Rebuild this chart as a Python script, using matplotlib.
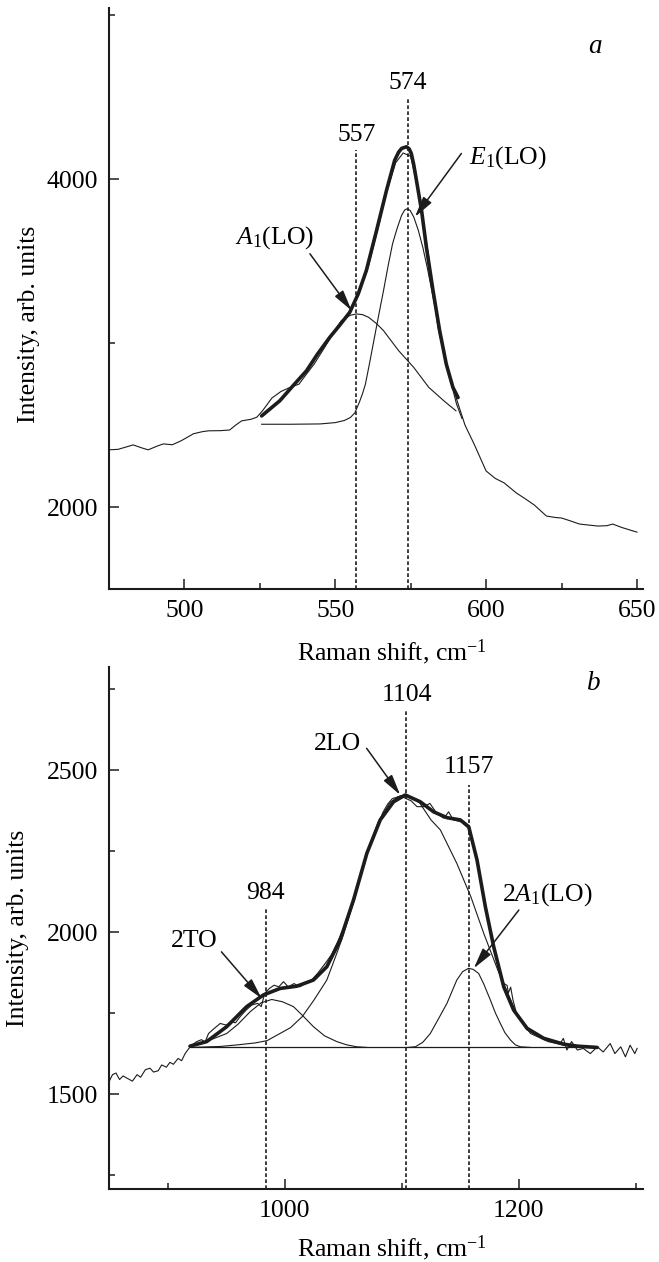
import matplotlib
matplotlib.use('Agg')
import matplotlib.pyplot as plt
from matplotlib.ticker import FixedLocator, NullFormatter

plt.rcParams['font.family'] = ['Liberation Serif', 'DejaVu Serif']
plt.rcParams['mathtext.fontset'] = 'custom'
plt.rcParams['mathtext.rm'] = 'Liberation Serif'
plt.rcParams['mathtext.it'] = 'Liberation Serif:italic'

# panel a: first-order region
a_spec_x = [475, 478, 481, 483, 486, 488, 491, 493, 496, 499, 503, 506, 508, 512, 515, 517, 519, 522,
            524, 526, 529, 532, 535, 538, 540, 543, 546, 549, 552, 555, 558, 561, 564, 567, 570, 572.5,
            575, 578, 581, 584, 587, 590, 593, 596, 600, 603, 606, 610, 613, 616, 620, 623, 625, 628,
            631, 634, 637, 640, 642, 645, 648, 650]
a_spec_y = [2349, 2352, 2368, 2379, 2360, 2349, 2372, 2385, 2380, 2405, 2447, 2460, 2465, 2466, 2470,
            2500, 2526, 2535, 2548, 2590, 2665, 2705, 2730, 2750, 2800, 2872, 2960, 3050, 3120, 3190,
            3310, 3470, 3690, 3920, 4100, 4160, 4140, 3890, 3520, 3100, 2850, 2670, 2500, 2385, 2220,
            2175, 2147, 2086, 2050, 2012, 1945, 1936, 1933, 1915, 1896, 1890, 1884, 1886, 1896, 1875,
            1858, 1847]
a_fit_x = [525.6, 531.6, 536, 540.5, 544, 548.2, 551.5, 554.8, 557.6, 560.3, 563.7, 567, 569.7, 571,
           572, 573.6, 574.5, 575.2, 576, 576.9, 578.6, 580.2, 582.4, 584.6, 586.8, 589, 590.7]
a_fit_y = [2556, 2648, 2740, 2832, 2930, 3036, 3110, 3188, 3300, 3443, 3688, 3933, 4116, 4165, 4188,
           4198, 4185, 4157, 4090, 3994, 3810, 3586, 3321, 3076, 2872, 2730, 2668]
a_a1_x = [525.6, 531.6, 536, 540.5, 544, 548, 552, 555, 557, 559, 561, 563.5, 566, 571, 576, 581, 586, 590]
a_a1_y = [2556, 2648, 2740, 2832, 2930, 3030, 3137, 3170, 3178, 3174, 3158, 3122, 3076, 2954, 2852,
          2730, 2648, 2587]
a_e1_x = [525.6, 535, 545, 550, 553, 555, 556.5, 558, 559, 560, 561.5, 563, 564.5, 566, 567.5, 569,
          570.5, 572, 573, 573.8, 574.8, 576, 577.5, 579, 580.5, 582, 583.5, 585, 586.5, 588, 589.2,
          590.2, 592]
a_e1_y = [2505, 2505, 2507, 2515, 2528, 2546, 2575, 2640, 2690, 2750, 2890, 3036, 3180, 3321, 3470,
          3607, 3700, 3780, 3812, 3820, 3810, 3770, 3690, 3586, 3460, 3321, 3180, 3036, 2910, 2791,
          2700, 2628, 2540]
a_peaks = [557, 574]
a_peak_tops = [4177, 4495]

# panel b: second-order region
b_spec_x = [850, 853, 856, 859, 862, 866, 870, 874, 877, 881, 885, 888, 892, 895, 899, 902, 905, 909,
            912, 915, 918, 921, 925, 929, 932, 935, 940, 945, 950, 955, 958, 962, 967, 972, 977, 980,
            983, 987, 991, 995, 999, 1003, 1008, 1013, 1018, 1023, 1028, 1034, 1040, 1045, 1050, 1055,
            1060, 1065, 1070, 1075, 1080, 1084, 1088, 1092, 1095, 1099, 1103, 1108, 1113, 1119, 1124,
            1130, 1136, 1140, 1144, 1151, 1157, 1161, 1164, 1168, 1171, 1175, 1178, 1182, 1185, 1187,
            1190, 1191, 1193, 1195, 1198, 1202, 1207, 1211, 1215, 1220, 1224, 1228, 1232, 1236, 1238,
            1241, 1245, 1250, 1255, 1261, 1267, 1272, 1278, 1282, 1287, 1291, 1295, 1299, 1301]
b_spec_y = [1538, 1560, 1565, 1545, 1556, 1548, 1540, 1560, 1552, 1575, 1580, 1568, 1572, 1590, 1583,
            1598, 1592, 1610, 1603, 1625, 1640, 1652, 1662, 1668, 1660, 1687, 1703, 1718, 1713, 1723,
            1720, 1739, 1759, 1775, 1780, 1770, 1811, 1826, 1836, 1831, 1847, 1831, 1841, 1831, 1843,
            1852, 1872, 1900, 1930, 1968, 2010, 2060, 2115, 2180, 2240, 2290, 2335, 2370, 2395, 2412,
            2415, 2420, 2413, 2405, 2387, 2387, 2397, 2366, 2351, 2371, 2346, 2340, 2320, 2270, 2220,
            2150, 2080, 2010, 1955, 1900, 1862, 1842, 1835, 1812, 1830, 1790, 1749, 1725, 1698, 1690,
            1682, 1675, 1667, 1665, 1656, 1660, 1672, 1636, 1662, 1636, 1641, 1625, 1646, 1630, 1656,
            1625, 1646, 1615, 1651, 1625, 1641]
b_fit_x = [919.2, 933.4, 950.5, 967.6, 981.9, 996.1, 1010.4, 1024.6, 1036, 1047.4, 1058.8, 1070.2,
           1081.6, 1093, 1103, 1115.8, 1127.2, 1138.6, 1150, 1157.2, 1164.3, 1171.4, 1178.5, 1187.1,
           1195.6, 1207, 1221.3, 1238.3, 1249.8, 1266.8]
b_fit_y = [1648, 1662, 1708, 1770, 1806, 1826, 1833, 1852, 1893, 1975, 2099, 2243, 2346, 2402, 2423,
           2402, 2371, 2353, 2346, 2325, 2222, 2078, 1955, 1831, 1759, 1703, 1672, 1654, 1648, 1644]
b_2to_x = [919, 935, 950.5, 960, 970.5, 980, 989, 998, 1007.5, 1016, 1024.6, 1034, 1044.5, 1053,
           1061.6, 1070]
b_2to_y = [1648, 1665, 1687, 1715, 1754, 1782, 1792, 1785, 1770, 1740, 1708, 1680, 1662, 1652, 1646, 1644]
b_2lo_x = [920, 945, 960, 975, 985, 995, 1005, 1015, 1025, 1036, 1044.5, 1050, 1060, 1070, 1080, 1090,
           1097, 1104, 1115, 1125, 1133, 1147, 1159, 1170, 1182, 1193, 1199, 1210, 1225, 1245, 1268]
b_2lo_y = [1644, 1647, 1652, 1658, 1665, 1685, 1705, 1739, 1790, 1852, 1934, 1990, 2105, 2240, 2340,
           2400, 2418, 2425, 2400, 2346, 2315, 2212, 2109, 1996, 1883, 1790, 1739, 1687, 1662, 1646, 1644]
b_2a1_x = [1105, 1111.6, 1118, 1124.4, 1131, 1138.6, 1147, 1152, 1157, 1161, 1165.7, 1170, 1175.7, 1180,
           1184.2, 1188, 1192.8, 1197, 1201.3, 1210]
b_2a1_y = [1644, 1646, 1660, 1687, 1730, 1780, 1852, 1878, 1888, 1885, 1872, 1840, 1790, 1750, 1718,
           1690, 1667, 1652, 1646, 1644]
b_base_x = [919, 1268]
b_base_y = [1644, 1644]
b_peaks = [984, 1104, 1157]
b_peak_tops = [2074, 2685, 2454]

FS = 18.5
ink = '#1c1c1c'
fig = plt.figure(figsize=(6.59, 12.62), dpi=100)
ax1 = fig.add_axes([0.1654, 0.5333, 0.8103, 0.4604])
ax2 = fig.add_axes([0.1654, 0.0578, 0.8103, 0.4137])


def style_axes(ax, xlim, ylim, xmaj, xmin, ymaj, ymin):
    ax.set_xlim(*xlim)
    ax.set_ylim(*ylim)
    for s in ['top', 'right']:
        ax.spines[s].set_visible(False)
    for s in ['left', 'bottom']:
        ax.spines[s].set_linewidth(1.5)
        ax.spines[s].set_color(ink)
    ax.xaxis.set_major_locator(FixedLocator(xmaj))
    ax.xaxis.set_minor_locator(FixedLocator(xmin))
    ax.yaxis.set_major_locator(FixedLocator(ymaj))
    ax.yaxis.set_minor_locator(FixedLocator(ymin))
    ax.xaxis.set_minor_formatter(NullFormatter())
    ax.yaxis.set_minor_formatter(NullFormatter())
    ax.tick_params(which='major', direction='in', length=7, width=1.1, color=ink,
                   labelsize=FS, pad=8)
    ax.tick_params(which='minor', direction='in', length=4.5, width=1.1, color=ink)
    ax.set_xlabel(r'Raman shift, cm$^{-1}$', fontsize=FS)
    ax.set_ylabel('Intensity, arb. units', fontsize=FS)


style_axes(ax1, (475, 652), (1500, 5045), [500, 550, 600, 650], [525, 575, 625],
           [2000, 4000], [3000, 5000])
style_axes(ax2, (850, 1306), (1207, 2818), [1000, 1200], [900, 1100, 1300],
           [1500, 2000, 2500], [1250, 1750, 2250, 2750])
ax1.xaxis.set_label_coords(0.53, -0.083)
ax1.yaxis.set_label_coords(-0.13, 0.456)
ax2.xaxis.set_label_coords(0.53, -0.085)
ax2.yaxis.set_label_coords(-0.15, 0.5)
for ax in (ax1, ax2):
    ax.xaxis.label.set_va('top')

dash = (0, (2.2, 1.4))
arrow = dict(arrowstyle='-|>,head_length=0.9,head_width=0.22', color=ink, lw=1.1,
             mutation_scale=14, shrinkA=0, shrinkB=0)

# panel a
ax1.plot(a_spec_x, a_spec_y, color=ink, lw=0.8)
ax1.plot(a_a1_x, a_a1_y, color=ink, lw=0.8)
ax1.plot(a_e1_x, a_e1_y, color=ink, lw=0.8)
ax1.plot(a_fit_x, a_fit_y, color=ink, lw=2.6, solid_capstyle='round', solid_joinstyle='round')
ax1.vlines(a_peaks, 1500, a_peak_tops, colors=ink, linestyles=[dash], lw=1.2)
for x, top in zip(a_peaks, a_peak_tops):
    ax1.text(x, top + 92, str(x), fontsize=FS, ha='center', va='center')
ax1.text(636, 4807, 'a', fontsize=FS + 1, style='italic', ha='center', va='center')
ax1.text(530, 3647, r'$A_1$(LO)', fontsize=FS, ha='center', va='center')
ax1.annotate('', xy=(555.4, 3199), xytext=(541.6, 3545), arrowprops=arrow)
ax1.text(607.4, 4135, r'$E_1$(LO)', fontsize=FS, ha='center', va='center')
ax1.annotate('', xy=(576.4, 3770), xytext=(591.8, 4157), arrowprops=arrow)

# panel b
ax2.plot(b_spec_x, b_spec_y, color=ink, lw=0.8)
ax2.plot(b_base_x, b_base_y, color=ink, lw=0.9)
ax2.plot(b_2to_x, b_2to_y, color=ink, lw=0.8)
ax2.plot(b_2lo_x, b_2lo_y, color=ink, lw=0.8)
ax2.plot(b_2a1_x, b_2a1_y, color=ink, lw=0.8)
ax2.plot(b_fit_x, b_fit_y, color=ink, lw=2.6, solid_capstyle='round', solid_joinstyle='round')
ax2.vlines(b_peaks, 1207, b_peak_tops, colors=ink, linestyles=[dash], lw=1.2)
b_label_y = [2122, 2731, 2509]
for x, ly in zip(b_peaks, b_label_y):
    ax2.text(x, ly, str(x), fontsize=FS, ha='center', va='center')
ax2.text(1264, 2768, 'b', fontsize=FS + 1, style='italic', ha='center', va='center')
ax2.text(923, 1972, '2TO', fontsize=FS, ha='center', va='center')
ax2.annotate('', xy=(980.4, 1795), xytext=(946, 1939), arrowprops=arrow)
ax2.text(1045, 2580, '2LO', fontsize=FS, ha='center', va='center')
ax2.annotate('', xy=(1098.7, 2423), xytext=(1070, 2567), arrowprops=arrow)
ax2.text(1224, 2115, r'2$A_1$(LO)', fontsize=FS, ha='center', va='center')
ax2.annotate('', xy=(1161.5, 1888), xytext=(1200, 2068), arrowprops=arrow)

fig.savefig('out.png', dpi=100)
